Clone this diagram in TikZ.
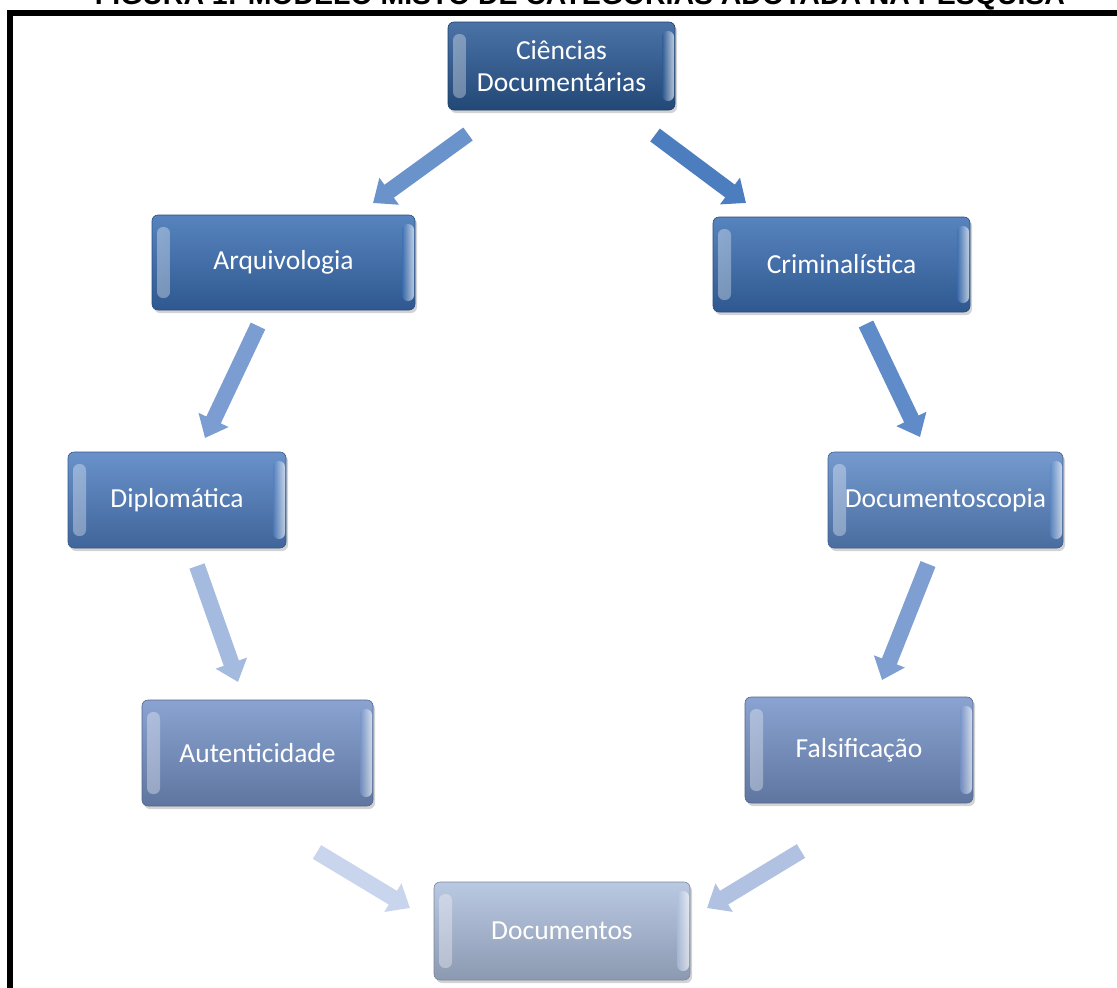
\documentclass[tikz,border=0pt]{standalone}
\usepackage{fontspec}
\setmainfont{Carlito}
\newfontfamily\titlefont{Liberation Sans}
\usetikzlibrary{arrows.meta,shadows}
\definecolor{frameblack}{HTML}{000000}
\tikzset{
  catbox/.style={rounded corners=6pt, draw=#1!70!black, line width=0.6pt,
    top color=#1!85!white, bottom color=#1!80!black, text=white,
    font=\fontsize{27.5}{32}\selectfont, align=center,
    drop shadow={shadow xshift=2pt, shadow yshift=-3pt, opacity=.35},
    path picture={
      \shade[left color=white, right color=#1, opacity=.35] ([xshift=5pt,yshift=-12pt]path picture bounding box.north west) rectangle ([xshift=18pt,yshift=12pt]path picture bounding box.south west);
      \shade[left color=#1, right color=white, opacity=.65] ([xshift=-13pt,yshift=-9pt]path picture bounding box.north east) rectangle ([xshift=-1pt,yshift=9pt]path picture bounding box.south east);
    }},
  blockarrow/.style={line width=16pt, draw=#1, -{Triangle[width=32pt,length=20pt,fill=#1]}},
}
\definecolor{cA}{HTML}{2B5A96}
\definecolor{cB}{HTML}{3A6EB3}
\definecolor{cC}{HTML}{4F7EC1}
\definecolor{cD}{HTML}{5C88C7}
\definecolor{cE}{HTML}{7693C8}
\definecolor{cF}{HTML}{AEBFDD}
\definecolor{aA}{HTML}{6A92CB}
\definecolor{aB}{HTML}{4C7DBE}
\definecolor{aC}{HTML}{7C9DD1}
\definecolor{aD}{HTML}{5F8BC9}
\definecolor{aE}{HTML}{A5BADF}
\definecolor{aF}{HTML}{7F9ED2}
\definecolor{aG}{HTML}{C9D5EC}
\definecolor{aH}{HTML}{B0C1E1}
\begin{document}
\begin{tikzpicture}[x=1pt,y=-1pt]
\useasboundingbox (0,0) rectangle (1117,988);
\clip (0,0) rectangle (1117,988);
% title (cut off at the top, as in the reference)
\node[anchor=base, inner sep=0pt, text=black] (title) at (580,4)
  {\resizebox{970pt}{!}{\titlefont\bfseries FIGURA 1: MODELO MISTO DE CATEGORIAS ADOTADA NA PESQUISA}};
% frame
\draw[line width=6pt, draw=frameblack, line join=miter] (10.3,990) -- (10.3,13) -- (1120,13);
% boxes
\node[catbox=cA, minimum width=227pt, minimum height=88pt] (cd) at (561.5,66) {Ciências\\Documentárias};
\node[catbox=cB, minimum width=263pt, minimum height=95pt] (arq) at (283.5,262.5) {Arquivologia};
\node[catbox=cB, minimum width=257pt, minimum height=95pt] (cri) at (841.5,264.5) {Criminalística};
\node[catbox=cC, minimum width=218pt, minimum height=96pt] (dip) at (177,500) {Diplomática};
\node[catbox=cD, minimum width=235pt, minimum height=96pt] (dsc) at (945.5,500) {Documentoscopia};
\node[catbox=cE, minimum width=231pt, minimum height=106pt] (aut) at (257.5,753) {Autenticidade};
\node[catbox=cE, minimum width=228pt, minimum height=106pt] (fal) at (859,750) {Falsificação};
\node[catbox=cF, minimum width=256pt, minimum height=98pt] (doc) at (562,931) {Documentos};
% arrow end points
\coordinate (a1s) at (468,134); \coordinate (a1e) at (373,203);
\coordinate (a2s) at (655,135); \coordinate (a2e) at (746,203);
\coordinate (a3s) at (258,326); \coordinate (a3e) at (205,438);
\coordinate (a4s) at (866,324); \coordinate (a4e) at (920,437);
\coordinate (a5s) at (197,566); \coordinate (a5e) at (238,682);
\coordinate (a6s) at (928,564); \coordinate (a6e) at (882,680);
\coordinate (a7s) at (317,852); \coordinate (a7e) at (410,908);
\coordinate (a8s) at (801,851); \coordinate (a8e) at (707,908);
\draw[blockarrow=aA] (a1s) -- (a1e);
\draw[blockarrow=aB] (a2s) -- (a2e);
\draw[blockarrow=aC] (a3s) -- (a3e);
\draw[blockarrow=aD] (a4s) -- (a4e);
\draw[blockarrow=aE] (a5s) -- (a5e);
\draw[blockarrow=aF] (a6s) -- (a6e);
\draw[blockarrow=aG] (a7s) -- (a7e);
\draw[blockarrow=aH] (a8s) -- (a8e);
\end{tikzpicture}
\end{document}
